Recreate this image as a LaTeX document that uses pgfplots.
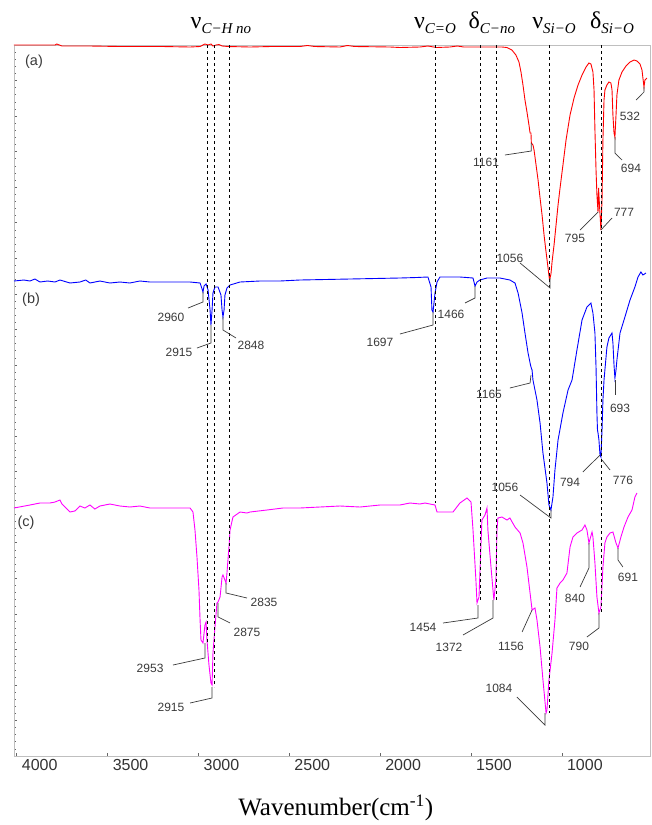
\documentclass[border=0pt]{standalone}
\usepackage{fontspec}
\setmainfont{Liberation Serif}
\newfontfamily\arial{Liberation Sans}
\usepackage{pgfplots}
\pgfplotsset{compat=1.18}
\definecolor{lead}{HTML}{3A3A3A}
\definecolor{mag}{HTML}{FF00FF}
\newcommand{\lab}[2]{{\fontsize{24}{24}\selectfont #1}\raisebox{-5pt}{\fontsize{15}{15}\selectfont\itshape #2}}
\newcommand{\pk}{\arial\fontsize{12}{12}\selectfont}
\begin{document}
\begin{tikzpicture}[x=1pt,y=1pt]
\path[use as bounding box] (-14,-69) rectangle (638,756);
\begin{axis}[
  at={(0,0)}, anchor=south west,
  scale only axis, width=636pt, height=711pt,
  x dir=reverse, xmin=515, xmax=4015,
  y dir=reverse, ymin=45, ymax=756,
  clip=false,
  axis line style={gray!50},
  xtick={1000,1500,...,4000},
  xtick pos=bottom, ytick pos=left,
  tick align=inside,
  major tick length=3.5pt, minor tick length=2.5pt,
  tick style={gray!80!black, line width=0.6pt},
  xticklabel style={font=\arial\fontsize{16}{16}\selectfont, text=black!80, xshift=23pt},
  /pgf/number format/assume math mode=true,
  /pgf/number format/set thousands separator={},
  ytick={45,80.55,...,756}, yticklabels={},
  minor y tick num=4,
  xlabel={Wavenumber(cm\textsuperscript{-1})},
  xlabel style={font=\fontsize{25}{25}\selectfont, at={(axis description cs:0.506,0)}, anchor=center, yshift=-52pt},
]
% (a) red
\addplot[red, line width=0.9pt] coordinates {
(4015,45) (3789,45) (3780,44) (3751,46) (3600,46) (3432,46.5) (3200,46.5) (3046,47) (2991,46.5) (2975,45) (2964,44) (2947,45) (2931,44) (2920,46) (2903,45) (2887,44.5) (2870,46) (2837,46.5) (2716,47) (2600,46.5) (2441,46.5) (2400,45.5) (2360,46.5) (2221,47) (2180,45.5) (2140,46.5) (1946,47) (1891,47.5) (1781,47) (1737,46) (1690,47.5) (1616,47) (1575,46) (1540,47) (1412,47) (1330,47) (1302,47.5) (1286,49) (1275,50) (1253,55) (1236,62) (1225,72) (1214,85) (1203,100) (1192,112) (1181,125) (1175,133) (1170,133) (1168,143) (1159,145) (1153,150) (1142,165) (1131,180) (1120,198) (1109,215) (1098,235) (1087,252) (1076,268) (1068,280) (1060,274) (1054,262) (1043,245) (1032,225) (1021,205) (1010,188) (994,165) (977,140) (955,115) (933,98) (911,85) (889,75) (867,67) (851,63) (840,64) (829,72) (823,90) (818,130) (812,170) (807,195) (801,212) (798,188) (793,205) (785,230) (779,200) (774,140) (768,100) (763,90) (752,85) (741,82) (730,83) (724,90) (719,115) (713,133) (708,137) (702,115) (697,95) (686,80) (669,72) (647,66) (625,62) (603,60) (587,61) (570,64) (559,70) (554,78) (548,87) (543,80) (532,78)
};
% (b) blue
\addplot[blue, line width=0.9pt] coordinates {
(4015,281) (3960,280) (3927,281) (3900,279) (3872,282) (3830,281) (3789,282) (3762,280) (3707,283) (3652,282) (3620,280) (3597,283) (3542,281) (3487,283) (3432,282) (3377,283) (3322,281) (3267,282) (3156,282) (3046,282) (2991,283) (2980,289) (2975,292) (2969,286) (2958,284) (2947,290) (2936,310) (2931,325) (2925,310) (2920,293) (2909,287) (2892,287) (2876,295) (2870,310) (2865,317) (2859,310) (2854,295) (2843,288) (2826,285) (2771,282) (2661,281) (2551,281) (2441,280) (2166,279) (1891,278) (1800,277.5) (1737,277) (1720,287) (1715,310) (1709,312) (1698,293) (1687,282) (1671,277) (1561,277) (1489,278) (1478,286) (1467,282) (1451,280) (1412,278) (1341,278) (1286,280) (1258,283) (1241,293) (1219,313) (1203,333) (1186,353) (1175,363) (1170,367) (1164,370) (1159,380) (1137,400) (1120,423) (1104,453) (1082,483) (1071,505) (1060,510) (1049,497) (1038,470) (1021,440) (994,413) (966,390) (944,380) (917,350) (889,320) (862,307) (840,303) (829,313) (818,333) (812,367) (807,413) (804,430) (801,433) (796,440) (790,455) (785,457) (779,430) (774,400) (768,380) (752,347) (741,338) (724,333) (719,343) (713,365) (708,378) (702,370) (697,360) (680,333) (653,317) (625,300) (598,287) (581,277) (565,272) (554,275) (537,273)
};
% (c) magenta
\addplot[mag, line width=0.9pt] coordinates {
(4015,508) (3927,505) (3872,503) (3817,503) (3789,502) (3762,500) (3751,504) (3707,512) (3680,511) (3652,506) (3625,508) (3597,505) (3570,509) (3542,506) (3487,504) (3432,506) (3377,507) (3322,506) (3267,508) (3156,508) (3046,508) (3030,512) (3019,530) (3008,557) (2997,590) (2991,620) (2986,640) (2975,643) (2964,625) (2958,622) (2953,640) (2942,665) (2931,683) (2925,685) (2920,653) (2909,627) (2898,603) (2892,602) (2881,597) (2870,577) (2865,575) (2848,583) (2843,573) (2832,547) (2826,530) (2810,517) (2771,512) (2733,513) (2716,512) (2623,510) (2535,508) (2441,508) (2331,507) (2221,506) (2111,507) (2001,505) (1891,505) (1836,503) (1781,504) (1753,503) (1726,504) (1698,505) (1687,512) (1643,512) (1599,512) (1561,503) (1522,498) (1500,502) (1489,530) (1473,580) (1467,603) (1456,597) (1440,520) (1423,515) (1412,508) (1407,530) (1390,567) (1379,590) (1374,600) (1363,580) (1357,530) (1352,518) (1330,517) (1302,520) (1286,518) (1258,527) (1230,533) (1214,543) (1192,567) (1175,593) (1164,610) (1148,608) (1137,620) (1120,647) (1104,680) (1087,713) (1082,710) (1071,680) (1054,653) (1038,620) (1027,588) (1010,583) (994,580) (972,573) (955,547) (939,537) (917,533) (889,530) (873,525) (862,530) (851,543) (834,532) (829,537) (818,563) (807,597) (796,613) (785,607) (774,567) (763,543) (752,537) (735,533) (719,532) (702,543) (691,548) (675,537) (658,527) (636,517) (614,510) (598,497) (587,493)
};
% dashed guide lines
\addplot[black, dashed, line width=0.7pt] coordinates {(2953,45) (2953,643)};
\addplot[black, dashed, line width=0.7pt] coordinates {(2914,45) (2914,687)};
\addplot[black, dashed, line width=0.7pt] coordinates {(2832,45) (2832,583)};
\addplot[black, dashed, line width=0.7pt] coordinates {(1698,45) (1698,503)};
\addplot[black, dashed, line width=0.7pt] coordinates {(1451,45) (1451,602)};
\addplot[black, dashed, line width=0.7pt] coordinates {(1363,45) (1363,600)};
\addplot[black, dashed, line width=0.7pt] coordinates {(1071,45) (1071,713)};
\addplot[black, dashed, line width=0.7pt] coordinates {(785,45) (785,613)};
% top labels
\node[anchor=base] at (2876,28) {\lab{ν}{C−H no}};
\node[anchor=base] at (1698,28) {\lab{ν}{C=O}};
\node[anchor=base] at (1385,28) {\lab{δ}{C−no}};
\node[anchor=base] at (1043,28) {\lab{ν}{Si−O}};
\node[anchor=base] at (724,28) {\lab{δ}{Si−O}};
% panel labels
\node[font=\arial\fontsize{14.5}{14.5}\selectfont, text=lead] at (3905,62) {(a)};
\node[font=\arial\fontsize{14.5}{14.5}\selectfont, text=lead] at (3921,300) {(b)};
\node[font=\arial\fontsize{14.5}{14.5}\selectfont, text=lead] at (3949,523) {(c)};
% leaders (a)
\draw[lead, line width=0.7pt] (1168,143) -- (1168,151) -- (1313,155);
\node[font=\pk, text=lead] at (1417,162) {1161};
\draw[lead, line width=0.7pt] (1065,278) -- (1065,288) -- (1230,263);
\node[font=\pk, text=lead] at (1286,258) {1056};
\draw[lead, line width=0.7pt] (801,212) -- (900,230);
\node[font=\pk, text=lead] at (928,238) {795};
\draw[lead, line width=0.7pt] (785,230) -- (724,218);
\node[font=\pk, text=lead] at (658,212) {777};
\draw[lead, line width=0.7pt] (708,137) -- (708,153) -- (669,160);
\node[font=\pk, text=lead] at (620,168) {694};
\draw[lead, line width=0.7pt] (548,87) -- (548,92) -- (592,100);
\node[font=\pk, text=lead] at (625,116) {532};
% leaders (b)
\draw[lead, line width=0.7pt] (2975,292) -- (2975,302) -- (3057,308);
\node[font=\pk, text=lead] at (3151,317) {2960};
\draw[lead, line width=0.7pt] (2931,325) -- (2931,343) -- (3008,348);
\node[font=\pk, text=lead] at (3107,352) {2915};
\draw[lead, line width=0.7pt] (2865,317) -- (2865,330) -- (2793,338);
\node[font=\pk, text=lead] at (2711,345) {2848};
\draw[lead, line width=0.7pt] (1709,312) -- (1709,325) -- (1891,334);
\node[font=\pk, text=lead] at (2001,342) {1697};
\draw[lead, line width=0.7pt] (1478,286) -- (1478,298) -- (1533,303);
\node[font=\pk, text=lead] at (1610,314) {1466};
\draw[lead, line width=0.7pt] (1170,375) -- (1175,383) -- (1286,388);
\node[font=\pk, text=lead] at (1401,394) {1165};
\draw[lead, line width=0.7pt] (1060,510) -- (1060,518) -- (1230,495);
\node[font=\pk, text=lead] at (1313,487) {1056};
\draw[lead, line width=0.7pt] (790,455) -- (884,472);
\node[font=\pk, text=lead] at (955,482) {794};
\draw[lead, line width=0.7pt] (779,460) -- (735,470);
\node[font=\pk, text=lead] at (664,480) {776};
\draw[lead, line width=0.7pt] (708,380) -- (708,395);
\node[font=\pk, text=lead] at (680,408) {693};
% leaders (c)
\draw[lead, line width=0.7pt] (2964,643) -- (2964,658) -- (3140,665);
\node[font=\pk, text=lead] at (3266,668) {2953};
\draw[lead, line width=0.7pt] (2925,687) -- (2925,698) -- (3046,703);
\node[font=\pk, text=lead] at (3151,707) {2915};
\draw[lead, line width=0.7pt] (2892,603) -- (2892,617) -- (2826,623);
\node[font=\pk, text=lead] at (2733,632) {2875};
\draw[lead, line width=0.7pt] (2848,583) -- (2848,593) -- (2733,598);
\node[font=\pk, text=lead] at (2639,602) {2835};
\draw[lead, line width=0.7pt] (1462,605) -- (1462,618) -- (1654,623);
\node[font=\pk, text=lead] at (1764,627) {1454};
\draw[lead, line width=0.7pt] (1379,600) -- (1379,618) -- (1544,635);
\node[font=\pk, text=lead] at (1621,647) {1372};
\draw[lead, line width=0.7pt] (1164,610) -- (1219,632);
\node[font=\pk, text=lead] at (1280,646) {1156};
\draw[lead, line width=0.7pt] (1093,713) -- (1093,725) -- (1247,697);
\node[font=\pk, text=lead] at (1346,688) {1084};
\draw[lead, line width=0.7pt] (851,543) -- (851,568) -- (900,587);
\node[font=\pk, text=lead] at (928,598) {840};
\draw[lead, line width=0.7pt] (796,613) -- (796,628) -- (862,637);
\node[font=\pk, text=lead] at (906,646) {790};
\draw[lead, line width=0.7pt] (691,548) -- (691,560) -- (664,567);
\node[font=\pk, text=lead] at (636,577) {691};
\end{axis}
\end{tikzpicture}
\end{document}
